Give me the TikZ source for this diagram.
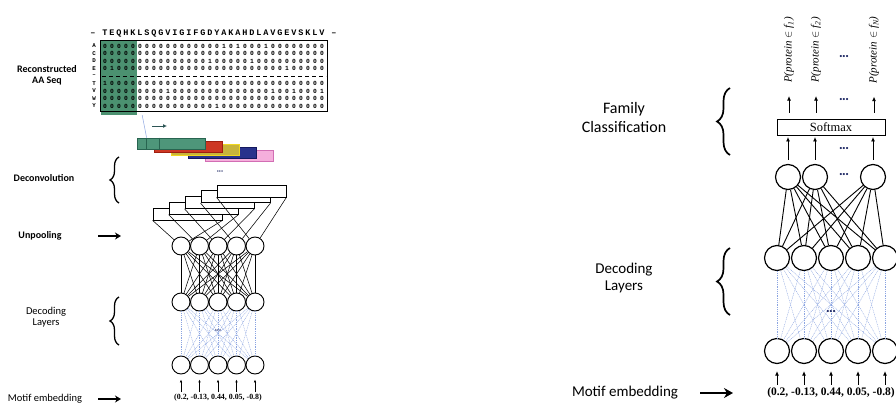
\documentclass[tikz,border=0pt]{standalone}
\usepackage{fontspec}
\setmainfont{Liberation Serif}
\newfontfamily\lblf{Carlito}
\newfontfamily\monof{Liberation Mono}
\usetikzlibrary{arrows.meta,decorations.pathreplacing}
\definecolor{tealf}{RGB}{78,150,122}
\definecolor{teald}{RGB}{40,100,80}
\definecolor{redf}{RGB}{205,55,35}
\definecolor{redd}{RGB}{160,30,15}
\definecolor{yelf}{RGB}{200,180,60}
\definecolor{yeld}{RGB}{240,215,30}
\definecolor{navyf}{RGB}{40,50,140}
\definecolor{navyd}{RGB}{20,25,95}
\definecolor{pinkf}{RGB}{245,175,220}
\definecolor{pinkd}{RGB}{210,110,180}
\definecolor{grncol}{RGB}{75,145,112}
\definecolor{lblue}{RGB}{140,165,225}
\definecolor{dotnavy}{RGB}{30,40,100}
\definecolor{arrteal}{RGB}{45,85,85}
\begin{document}
\begin{tikzpicture}[x=1pt,y=-1pt,
  neurL/.style={circle,draw,line width=0.9pt,minimum size=18pt,inner sep=0pt,fill=white},
  neurR/.style={circle,draw,line width=1.2pt,minimum size=25pt,inner sep=0pt,fill=white},
  blk/.style={line width=0.55pt},
  blkR/.style={line width=0.9pt},
  bluel/.style={line width=0.4pt,draw=lblue,dash pattern=on 1pt off 0.8pt},
  upL/.style={-{Latex[length=3pt,width=2.6pt]},line width=0.6pt},
  upR/.style={-{Latex[length=4.5pt,width=4pt]},line width=0.9pt},
  bigL/.style={-{Stealth[length=6pt,width=7pt]},line width=1.8pt},
  bigR/.style={-{Stealth[length=9pt,width=10pt]},line width=2.6pt},
  brL/.style={decorate,decoration={brace,amplitude=9pt},line width=1.3pt},
  brR/.style={decorate,decoration={brace,amplitude=13pt},line width=1.7pt},
  lblLb/.style={font=\lblf\bfseries\fontsize{10}{11}\selectfont,align=center,inner sep=0pt},
  lblL/.style={font=\lblf\fontsize{10.5}{11}\selectfont,align=center,inner sep=0pt},
  lblR/.style={font=\lblf\fontsize{15}{16.5}\selectfont,align=center,inner sep=0pt},
  hdr/.style={font=\monof\bfseries\fontsize{8.5}{9}\selectfont,inner sep=0pt},
  dig/.style={font=\monof\bfseries\fontsize{6.3}{6.5}\selectfont,inner sep=0pt},
  rowlab/.style={font=\monof\bfseries\fontsize{5.8}{6}\selectfont,inner sep=0pt},
  cbar/.style={minimum width=68pt,minimum height=11pt,inner sep=0pt,line width=0.8pt},
  ubox/.style={draw,fill=white,minimum width=69pt,minimum height=12pt,inner sep=0pt,line width=0.8pt},
  dotsn/.style={font=\fontsize{9}{9}\selectfont,text=dotnavy,inner sep=0pt},
  dotss/.style={font=\fontsize{6}{6}\selectfont,text=dotnavy,inner sep=0pt},
  plab/.style={rotate=90,font=\itshape\fontsize{11}{12}\selectfont,inner sep=0pt}
]
\useasboundingbox (0,0) rectangle (896,404);

% ================= LEFT PANEL =================
\node[lblLb] (recL) at (47,75.5) {Reconstructed\\AA Seq};
\node[lblLb] (deconvL) at (44,178) {Deconvolution};
\node[lblLb] (unpL) at (40,236) {Unpooling};
\node[lblL] (decL) at (46,317.5) {Decoding\\Layers};
\node[lblL] (motL) at (45,399) {Motif embedding};

\draw[brL] (119,203) -- (119,157);
\draw[brL] (119,345) -- (119,297);
\coordinate (ua) at (98,236); \coordinate (ub) at (121,236);
\draw[bigL] (ua) -- (ub);
\coordinate (ma) at (98,399); \coordinate (mb) at (121,399);
\draw[bigL] (ma) -- (mb);

% matrix
\node[fill=grncol,minimum width=36pt,minimum height=75pt,inner sep=0pt] (grn) at (119,77.5) {};
\node[draw,line width=0.8pt,minimum width=227pt,minimum height=71pt,inner sep=0pt] (mat) at (213.5,75.5) {};
\node[hdr] (hdash1) at (93,34) {–};
\node[hdr] (hdash2) at (334,34) {–};
\foreach \rl/\yy in {A/46,C/53.5,D/61,E/68.5,T/83.5,V/91,W/98.5,Y/106}
  \node[rowlab] (lab\rl) at (94,\yy) {\rl};
\node[rowlab] (labsep) at (94,76) {–};
\draw[line width=0.8pt,dash pattern=on 4pt off 3pt] (mat.west |- labsep) ++(2.5,0) -- ++(224,0);
\foreach \sq [count=\ci from 0] in {T,E,Q,H,K,L,S,Q,G,V,I,G,I,F,G,D,Y,A,K,A,H,D,L,A,V,G,E,V,S,K,L,V} {
  \node[hdr] (h\ci) at (105+7*\ci,33) {\sq};
  \foreach \rl/\yy in {A/46,C/53.5,D/61,E/68.5,T/83.5,V/91,W/98.5,Y/106}
    \node[dig] (d\rl\ci) at (105+7*\ci,\yy) {\ifnum\strcmp{\sq}{\rl}=0 1\else 0\fi};
}

% colored bars
\foreach \k/\fc/\dc in {5/pinkf/pinkd,4/navyf/navyd,3/yelf/yeld,2/redf/redd,1/tealf/teald}
  \node[cbar,fill=\fc,draw=\dc] (bar\k) at ({171+17*(\k-1)},{143.5+3*(\k-1)}) {};
\draw[teald,line width=0.7pt] ([xshift=10pt]bar1.north west) -- ([xshift=10pt]bar1.south west);
\draw[teald,line width=0.7pt] ([xshift=23pt]bar1.north west) -- ([xshift=23pt]bar1.south west);
\draw[lblue,line width=0.5pt] ([xshift=5pt]grn.south east) -- ([xshift=10pt]bar1.north west);
\coordinate (sa) at (152,126); \coordinate (sb) at (167,126);
\draw[-{Latex[length=4pt,width=4pt]},line width=1pt,draw=arrteal] (sa) -- (sb);
\node[dotss] (dotsbar) at (220,172) {\textbullet\textbullet\textbullet};

% upconv boxes
\foreach \k in {1,...,5}
  \node[ubox] (U\k) at ({187.5+16*(\k-1)},{214-5.75*(\k-1)}) {};

% neurons
\foreach \i/\xx in {1/181,2/199.5,3/218,4/236.5,5/255} {
  \node[neurL] (L1-\i) at (\xx,246) {};
  \node[neurL] (L2-\i) at (\xx,302) {};
  \node[neurL] (L3-\i) at (\xx,365) {};
}
\foreach \k in {1,...,5} {
  \draw[blk] (U\k.south west) -- (L1-\k);
  \draw[blk] (U\k.south east) -- (L1-\k);
}
\foreach \i in {1,...,5}
  \foreach \j in {1,...,5} {
    \draw[blk] (L1-\i) -- (L2-\j);
    \draw[bluel] (L2-\i) -- (L3-\j);
  }
\node[dotss] (dotsL) at (218,331) {\textbullet\textbullet\textbullet};
\node[font=\bfseries\fontsize{7.9}{9}\selectfont,inner sep=0pt] (tupL) at (218,398) {(0.2, -0.13, 0.44, 0.05, -0.8)};
\foreach \i in {1,...,5}
  \draw[upL,shorten <=2pt,shorten >=5pt] (tupL.north -| L3-\i) -- (L3-\i.south);

% ================= RIGHT PANEL =================
\node[lblR,font=\lblf\fontsize{16}{19}\selectfont] (famR) at (624,117.5) {Family\\Classification};
\node[lblR] (decR) at (624,278) {Decoding\\Layers};
\node[lblR] (motR) at (625,393) {Motif embedding};
\draw[brR] (730,155) -- (730,88);
\draw[brR] (730,315) -- (730,248);
\coordinate (ra) at (700,393); \coordinate (rb) at (733,393);
\draw[bigR] (ra) -- (rb);

\foreach \i/\xx in {1/777,2/804,3/831,4/858,5/885} {
  \node[neurR] (R2-\i) at (\xx,258) {};
  \node[neurR] (R3-\i) at (\xx,351) {};
}
\foreach \i/\xx in {1/788,2/815,3/873}
  \node[neurR] (R1-\i) at (\xx,177) {};
\foreach \i in {1,2,3}
  \foreach \j in {1,...,5}
    \draw[blkR] (R1-\i) -- (R2-\j);
\foreach \i in {1,...,5}
  \foreach \j in {1,...,5}
    \draw[bluel] (R2-\i) -- (R3-\j);
\node[dotsn] (dotsR1) at (844,175) {\textbullet\textbullet\textbullet};
\node[dotsn] (dotsR2) at (831,312) {\textbullet\textbullet\textbullet};

\node[draw,line width=0.9pt,minimum width=108pt,minimum height=16pt,inner sep=0pt,font=\fontsize{12.5}{14}\selectfont] (soft) at (831,127) {Softmax};
\foreach \i in {1,2,3}
  \draw[upR,shorten <=4pt,shorten >=1.5pt] (R1-\i.north) -- (R1-\i.north |- soft.south);
\node[dotsn] (dotsS1) at (844,149) {\textbullet\textbullet\textbullet};

\node[plab] (P1) at (789,50) {P(protein $\in$ f\textsubscript{1})};
\node[plab] (P2) at (816,50) {P(protein $\in$ f\textsubscript{2})};
\node[plab] (P3) at (874,50) {P(protein $\in$ f\textsubscript{N})};
\foreach \i in {1,2,3}
  \draw[upR,shorten <=6pt,shorten >=13pt] (soft.north -| P\i) -- (P\i.west);
\node[dotsn] (dotsS2) at (844,100) {\textbullet\textbullet\textbullet};
\node[dotsn] (dotsP) at (844,57) {\textbullet\textbullet\textbullet};

\node[font=\bfseries\fontsize{11.5}{13}\selectfont,inner sep=0pt] (tupR) at (831,393) {(0.2, -0.13, 0.44, 0.05, -0.8)};
\foreach \i in {1,...,5}
  \draw[upR,shorten <=3pt,shorten >=7pt] (tupR.north -| R3-\i) -- (R3-\i.south);
\end{tikzpicture}
\end{document}
